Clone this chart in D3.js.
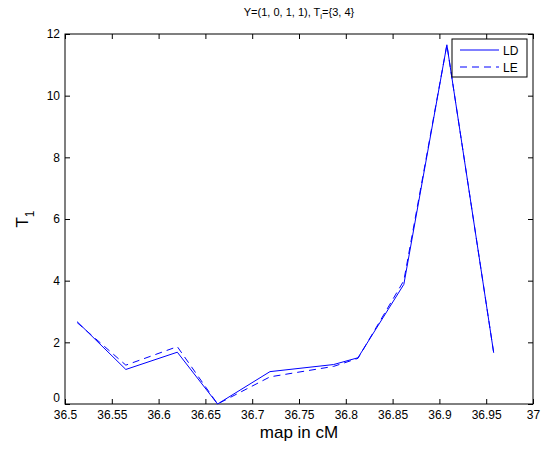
<!DOCTYPE html>
<html>
<head>
<meta charset="utf-8">
<script src="https://cdn.jsdelivr.net/npm/d3@7"></script>
<style>
  body { margin: 0; background: #fff; }
  text { font-family: "Liberation Sans", Arial, sans-serif; }
</style>
</head>
<body>
<div id="chart"></div>
<script>
// positions in cM
const mapPos = [36.513, 36.565, 36.62, 36.663, 36.719, 36.787, 36.813, 36.862, 36.908, 36.958]
const ldValues = [2.67, 1.12, 1.68, 0.0, 1.05, 1.28, 1.5, 3.88, 11.65, 1.66]
const leValues = [2.64, 1.26, 1.86, 0.0, 0.88, 1.22, 1.48, 4.0, 11.65, 1.66]
const xTicks = [36.5, 36.55, 36.6, 36.65, 36.7, 36.75, 36.8, 36.85, 36.9, 36.95, 37]
const yTicks = [0, 2, 4, 6, 8, 10, 12]

const width = 542, height = 450
const margin = { top: 34, right: 9, bottom: 46, left: 65 }
const w = width - margin.left - margin.right
const h = height - margin.top - margin.bottom

const svg = d3.select('#chart')
  .append('svg')
  .attr('width', width)
  .attr('height', height)

const g = svg.append('g')
  .attr('transform', `translate(${margin.left},${margin.top})`)

const x = d3.scaleLinear().domain([36.5, 37]).range([0, w])
const y = d3.scaleLinear().domain([0, 12]).range([h, 0])

// bottom axis with inward ticks
g.append('g')
  .attr('transform', `translate(0,${h})`)
  .call(d3.axisBottom(x).tickValues(xTicks).tickSizeInner(-5).tickSizeOuter(0).tickPadding(6)
    .tickFormat(d => d3.format('')(+d.toFixed(2))))
  .call(a => a.select('.domain').remove())
  .call(a => a.selectAll('.tick text').attr('font-size', 12).attr('fill', '#000'))

// top axis ticks only
g.append('g')
  .call(d3.axisTop(x).tickValues(xTicks).tickSizeInner(-5).tickSizeOuter(0).tickFormat(''))
  .call(a => a.select('.domain').remove())

// left axis
g.append('g')
  .call(d3.axisLeft(y).tickValues(yTicks).tickSizeInner(-5).tickSizeOuter(0).tickPadding(5))
  .call(a => a.select('.domain').remove())
  .call(a => a.selectAll('.tick text').attr('font-size', 12).attr('fill', '#000'))
  // lift the "0" a little so it clears the first x label
  .call(a => a.selectAll('.tick text').filter(d => d === 0).attr('y', -6))

// right axis ticks only
g.append('g')
  .attr('transform', `translate(${w},0)`)
  .call(d3.axisRight(y).tickValues(yTicks).tickSizeInner(-5).tickSizeOuter(0).tickFormat(''))
  .call(a => a.select('.domain').remove())

g.selectAll('.tick line').attr('stroke', '#000')

// box
g.append('rect')
  .attr('width', w)
  .attr('height', h)
  .attr('fill', 'none')
  .attr('stroke', '#000')

const line = d3.line()
  .x((d, i) => x(mapPos[i]))
  .y(d => y(d))

g.append('path')
  .datum(ldValues)
  .attr('fill', 'none')
  .attr('stroke', '#0000ff')
  .attr('stroke-width', 1)
  .attr('d', line)

g.append('path')
  .datum(leValues)
  .attr('fill', 'none')
  .attr('stroke', '#0000ff')
  .attr('stroke-width', 1)
  .attr('stroke-dasharray', '7,5')
  .attr('d', line)

// legend
const lg = svg.append('g').attr('transform', 'translate(452,39)')
lg.append('rect')
  .attr('width', 75)
  .attr('height', 38)
  .attr('fill', '#fff')
  .attr('stroke', '#000')
const legendItems = [['LD', null], ['LE', '7,5']]
legendItems.forEach(([name, dash], i) => {
  const yy = 11 + i * 17
  lg.append('line')
    .attr('x1', 8).attr('x2', 47)
    .attr('y1', yy).attr('y2', yy)
    .attr('stroke', '#0000ff')
    .attr('stroke-dasharray', dash)
  lg.append('text')
    .attr('x', 51).attr('y', yy + 4.5)
    .attr('font-size', 12)
    .text(name)
})

// title
const title = svg.append('text')
  .attr('x', margin.left + w / 2)
  .attr('y', 16)
  .attr('text-anchor', 'middle')
  .attr('font-size', 11)
title.append('tspan').text('Y=(1, 0, 1, 1), T')
title.append('tspan').attr('font-size', 8).attr('dy', 3).text('i')
title.append('tspan').attr('dy', -3).text('={3, 4}')

// x label
svg.append('text')
  .attr('x', margin.left + w / 2)
  .attr('y', 438)
  .attr('text-anchor', 'middle')
  .attr('font-size', 17)
  .text('map in cM')

// y label
const yl = svg.append('text')
  .attr('transform', `translate(28,${margin.top + h / 2}) rotate(-90)`)
  .attr('text-anchor', 'middle')
  .attr('font-size', 17)
yl.append('tspan').text('T')
yl.append('tspan').attr('font-size', 12).attr('dy', 6).text('1')
</script>
</body>
</html>
